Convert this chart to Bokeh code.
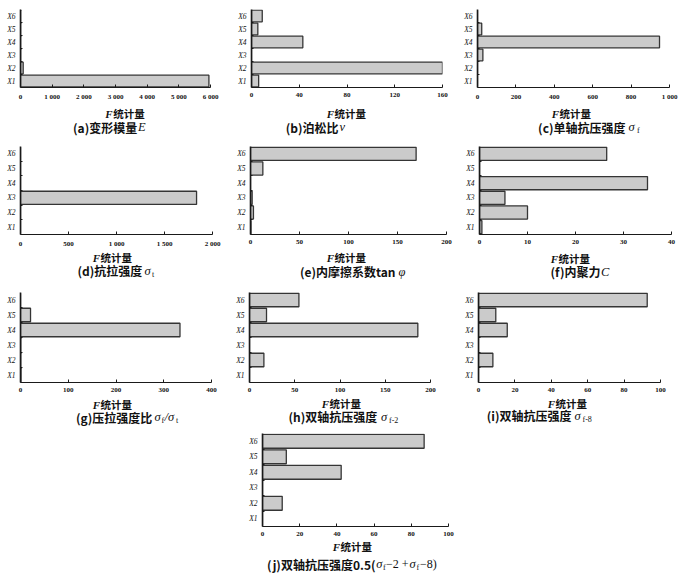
from bokeh.plotting import figure
from bokeh.models import FixedTicker, Spacer, Range1d, ColumnDataSource
from bokeh.layouts import row, column
from bokeh.core.properties import value
from bokeh.embed import file_html
from bokeh.resources import INLINE

# ---------------- data ----------------
categories = ["X1", "X2", "X3", "X4", "X5", "X6"]

f_E = [5950, 85, 4, 3, 3, 3]            # (a) deformation modulus
f_v = [6, 160, 0, 43, 5.3, 9]            # (b) Poisson ratio
f_sf = [0, 0, 28, 948, 22, 0]            # (c) uniaxial compressive strength
f_st = [0, 0, 1834, 0, 0, 0]             # (d) tensile strength
f_tan = [0.5, 3, 1.7, 0, 12.6, 169]      # (e) internal friction coefficient
f_C = [0.5, 10, 5.3, 35, 0, 26.5]        # (f) cohesion
f_ratio = [1, 0.5, 0.5, 334, 21, 0]      # (g) compression/tension ratio
f_f2 = [0, 15.9, 0, 186, 18.8, 54.6]     # (h) biaxial sigma f-2
f_f8 = [0, 7.9, 0, 15.8, 9.5, 92.7]      # (i) biaxial sigma f-8
f_avg = [0, 10.6, 0, 42.3, 12.8, 86.9]   # (j) biaxial 0.5(f-2 + f-8)

ticks_E = [0, 1000, 2000, 3000, 4000, 5000, 6000]
labels_E = ["0", "1 000", "2 000", "3 000", "4 000", "5 000", "6 000"]
ticks_v = [0, 40, 80, 120, 160]
labels_v = ["0", "40", "80", "120", "160"]
ticks_sf = [0, 200, 400, 600, 800, 1000]
labels_sf = ["0", "200", "400", "600", "800", "1 000"]
ticks_st = [0, 500, 1000, 1500, 2000]
labels_st = ["0", "500", "1 000", "1 500", "2 000"]
ticks_tan = [0, 50, 100, 150, 200]
labels_tan = ["0", "50", "100", "150", "200"]
ticks_C = [0, 10, 20, 30, 40]
labels_C = ["0", "10", "20", "30", "40"]
ticks_ratio = [0, 100, 200, 300, 400]
labels_ratio = ["0", "100", "200", "300", "400"]
ticks_f2 = [0, 50, 100, 150, 200]
labels_f2 = ["0", "50", "100", "150", "200"]
ticks_f8 = [0, 20, 40, 60, 80, 100]
labels_f8 = ["0", "20", "40", "60", "80", "100"]
ticks_avg = [0, 20, 40, 60, 80, 100]
labels_avg = ["0", "20", "40", "60", "80", "100"]

xlabel_main = "统计量"
xlabel_var = "F"

# ---------------- style ----------------
CJK = "Noto Sans CJK SC"
SERIF = "Liberation Serif"
BAR_FILL = "#cbcbcb"
BAR_LINE = "#353535"
AXIS = "#1a1a1a"
TXT = "#111111"
PAGE_W = 700

# column extents (page px) and row extents
COLS = [(0, 228), (228, 458), (458, 700)]
# per row: plot-area top, plot-area bottom, text-strip bottom
ROWS = [(0, 103, 136), (136, 250, 281), (281, 395, 426), (426, 540, 573)]

# caption pieces: (text, x in page px, kind)
panels = [
    dict(vals=f_E, ticks=ticks_E, labels=labels_E, r=0, c=0, frame=(20, 210, 9, 90),
         cap_y=126.5, cap=[("(a)变形模量", 136.7, "r"), ("E", 137.5, "it")], fx=112.7, fy=113),
    dict(vals=f_v, ticks=ticks_v, labels=labels_v, r=0, c=1, frame=(251, 442, 9, 90),
         cap_y=126.5, cap=[("(b)泊松比", 338, "r"), ("v", 339, "it")], fx=334, fy=113),
    dict(vals=f_sf, ticks=ticks_sf, labels=labels_sf, r=0, c=2, frame=(477, 669, 9, 90),
         cap_y=126.5, cap=[("(c)单轴抗压强度", 625, "r"), ("σ", 628, "it"), ("f", 636.5, "sub")],
         fx=559, fy=113),
    dict(vals=f_st, ticks=ticks_st, labels=labels_st, r=1, c=0, frame=(20, 212, 146, 237),
         cap_y=270, cap=[("(d)抗拉强度", 141.7, "r"), ("σ", 144, "it"), ("t", 151.5, "sub")],
         fx=100, fy=257),
    dict(vals=f_tan, ticks=ticks_tan, labels=labels_tan, r=1, c=1, frame=(250, 446, 146, 237),
         cap_y=271, cap=[("(e)内摩擦系数tan", 395, "r"), ("φ", 398, "it")], fx=334, fy=257),
    dict(vals=f_C, ticks=ticks_C, labels=labels_C, r=1, c=2, frame=(479, 671, 146, 237),
         cap_y=271, cap=[("(f)内聚力", 600, "r"), ("C", 600.5, "it")], fx=558, fy=258),
    dict(vals=f_ratio, ticks=ticks_ratio, labels=labels_ratio, r=2, c=0, frame=(20, 211, 292, 382),
         cap_y=416.5, cap=[("(g)压拉强度比", 151.7, "r"), ("σ", 154, "it"), ("f", 161, "sub"),
                           ("/", 164, "it"), ("σ", 167.5, "it"), ("t", 175.5, "sub")],
         fx=100, fy=404),
    dict(vals=f_f2, ticks=ticks_f2, labels=labels_f2, r=2, c=1, frame=(249, 430, 292, 382),
         cap_y=416, cap=[("(h)双轴抗压强度", 376.7, "r"), ("σ", 380.5, "it"), ("f-2", 388.5, "sub")],
         fx=329, fy=403),
    dict(vals=f_f8, ticks=ticks_f8, labels=labels_f8, r=2, c=2, frame=(478, 660, 292, 382),
         cap_y=415, cap=[("(i)双轴抗压强度", 571, "r"), ("σ", 574, "it"), ("f-8", 582, "sub")],
         fx=555, fy=403),
    dict(vals=f_avg, ticks=ticks_avg, labels=labels_avg, r=3, c=1, frame=(262, 448, 433, 526),
         cap_y=563.5, cap=[("(j)双轴抗压强度0.5(", 375, "r"), ("σ", 375.7, "it"), ("f", 382.5, "sub"),
                           ("−2 + ", 385.5, "rm"), ("σ", 409, "it"), ("f", 416, "sub"),
                           ("−8)", 419.5, "rm")],
         fx=340, fy=546),
]


def make_panel(spec):
    x0, x1 = COLS[spec["c"]]
    y0, y1, _ = ROWS[spec["r"]]
    fl, fr, ft, fb = spec["frame"]
    W, H = x1 - x0, y1 - y0
    xmax = spec["ticks"][-1]
    p = figure(width=W, height=H, output_backend="svg", toolbar_location=None,
               x_range=Range1d(0, xmax), y_range=Range1d(0.5, len(categories) + 0.5),
               min_border_left=fl - x0, min_border_right=x1 - fr,
               min_border_top=ft - y0, min_border_bottom=y1 - fb)
    p.outline_line_color = None
    p.grid.visible = False

    ypos = [i + 1 for i in range(len(categories))]
    src = ColumnDataSource(dict(y=ypos, v=spec["vals"], cat=categories))
    p.hbar(y="y", left=0, right="v", height=0.9, source=src,
           fill_color=BAR_FILL, line_color=BAR_LINE, line_width=1.3)

    xa = p.xaxis[0]
    xa.ticker = FixedTicker(ticks=spec["ticks"])
    xa.major_label_overrides = {t: l for t, l in zip(spec["ticks"], spec["labels"])}
    xa.major_tick_in = 3
    xa.major_tick_out = 0
    xa.minor_tick_line_color = None
    xa.axis_line_color = AXIS
    xa.axis_line_width = 1.2
    xa.major_tick_line_color = AXIS
    xa.major_label_text_font = SERIF
    xa.major_label_text_font_style = "bold"
    xa.major_label_text_font_size = "7px"
    xa.major_label_text_color = TXT
    xa.major_label_standoff = 5

    ya = p.yaxis[0]
    ya.ticker = FixedTicker(ticks=ypos, minor_ticks=[y + 0.5 for y in ypos[:-1]])
    ya.major_label_overrides = {y: c for y, c in zip(ypos, categories)}
    ya.major_tick_in = 0
    ya.major_tick_out = 0
    ya.minor_tick_in = 2
    ya.minor_tick_out = 0
    ya.minor_tick_line_color = AXIS
    ya.axis_line_color = AXIS
    ya.axis_line_width = 1.6
    ya.major_label_text_font = SERIF
    ya.major_label_text_font_style = "italic"
    ya.major_label_text_font_size = "7.5px"
    ya.major_label_text_color = TXT
    ya.major_label_standoff = 5
    return p


def make_strip(r):
    _, top, bottom = ROWS[r]
    h = bottom - top
    s = figure(width=PAGE_W, height=h, output_backend="svg", toolbar_location=None,
               x_range=Range1d(0, PAGE_W), y_range=Range1d(h, 0),
               x_axis_type=None, y_axis_type=None, min_border=0)
    s.outline_line_color = None
    s.grid.visible = False

    def put(text, x, y, font, size, style="normal", align="left"):
        s.text(x=[x], y=[y - top], text=[text], text_font=value(font),
               text_font_size=value(size), text_font_style=value(style),
               text_align=value(align), text_baseline=value("middle"), text_color=TXT)

    for spec in panels:
        if spec["r"] != r:
            continue
        put(xlabel_var, spec["fx"] - 0.5, spec["fy"], SERIF, "11px", "bold italic", "right")
        put(xlabel_main, spec["fx"], spec["fy"], CJK, "10.5px", "bold")
        cy = spec["cap_y"]
        for text, x, kind in spec["cap"]:
            if kind == "r":
                put(text, x, cy, CJK, "12px", "bold", "right")
            elif kind == "it":
                put(text, x, cy, SERIF, "12.5px", "italic")
            elif kind == "sub":
                put(text, x, cy + 3.5, SERIF, "8px", "normal")
            else:
                put(text, x, cy, SERIF, "12px", "normal")
    return s


figs = [make_panel(s) for s in panels]

rows = [
    row(figs[0], figs[1], figs[2], spacing=0),
    make_strip(0),
    row(figs[3], figs[4], figs[5], spacing=0),
    make_strip(1),
    row(figs[6], figs[7], figs[8], spacing=0),
    make_strip(2),
    row(Spacer(width=COLS[0][1] - COLS[0][0], height=ROWS[3][1] - ROWS[3][0]), figs[9],
        Spacer(width=COLS[2][1] - COLS[2][0], height=ROWS[3][1] - ROWS[3][0]), spacing=0),
    make_strip(3),
]
layout = column(*rows, spacing=0)

open("out.html", "w").write(file_html(layout, INLINE))
